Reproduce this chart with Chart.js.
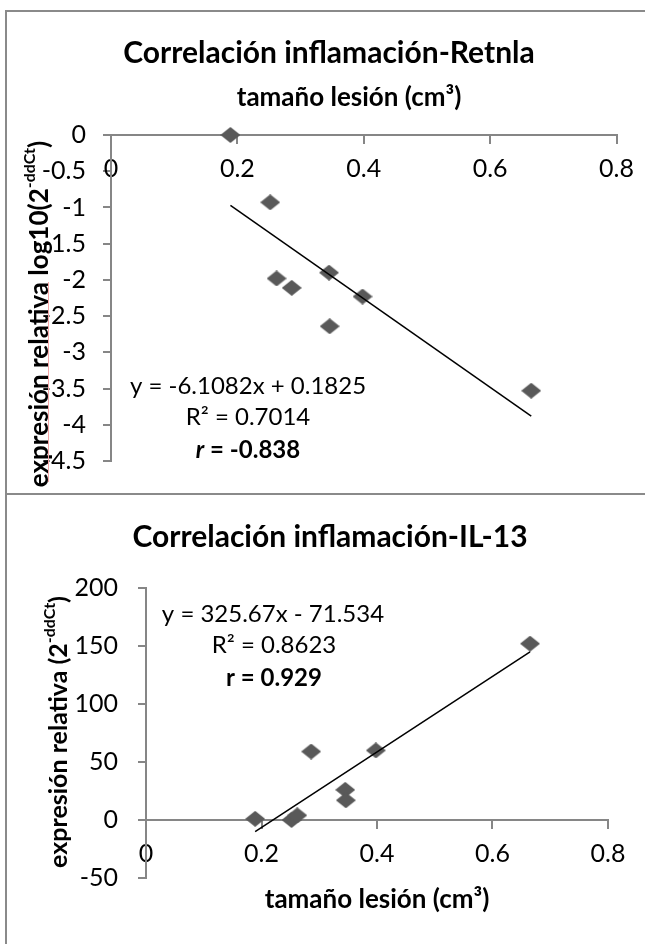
<!DOCTYPE html>
<html>
<head>
<meta charset="utf-8">
<script src="https://cdn.jsdelivr.net/npm/chart.js@4.4.1/dist/chart.umd.min.js"></script>
<style>
  html, body { margin: 0; padding: 0; background: #fff; }
  body { width: 645px; height: 944px; position: relative; overflow: hidden; }
  canvas { position: absolute; left: 0; }
  #retnla { top: 0; }
  #il13 { top: 493px; }
  .frame { position: absolute; background: #8a8a8a; }
</style>
</head>
<body>
<canvas id="retnla" width="645" height="493" style="width:645px;height:493px"></canvas>
<canvas id="il13" width="645" height="451" style="width:645px;height:451px"></canvas>
<div class="frame" style="left:5px;top:10px;width:2px;height:934px"></div>
<div class="frame" style="left:5px;top:10px;width:640px;height:2px"></div>
<div class="frame" style="left:5px;top:493px;width:640px;height:2px"></div>
<div style="position:absolute;left:48px;top:282px;width:1px;height:200px;background:#f3a6a6"></div>
<script>
// lesion size (cm3) per animal, shared by both panels
const lesionSize = [0.189, 0.252, 0.262, 0.286, 0.345, 0.346, 0.398, 0.665];
// log10(2^-ddCt) for Retnla
const retnlaExpr = [0, -0.93, -1.98, -2.11, -1.90, -2.64, -2.23, -3.53];
// 2^-ddCt for IL-13
const il13Expr = [1, 0, 4, 59, 26, 17, 60, 152];
// trendline end points as drawn
const retnlaTrendX = [0.189, 0.665];
const retnlaTrendY = [-0.97, -3.88];
const il13TrendX = [0.189, 0.665];
const il13TrendY = [-10, 145];

const FONT = 'Lato, "Open Sans", sans-serif';
const AXIS_GRAY = '#868686';
const MARKER = '#595959';
const TICK_SIZE = 25;

function pairs(xs, ys) {
  return xs.map((x, i) => ({ x, y: ys[i] }));
}

// diamond marker, a bit wider than tall like the original
function diamond(w, h, color) {
  const c = document.createElement('canvas');
  c.width = w; c.height = h;
  const g = c.getContext('2d');
  g.fillStyle = color;
  g.beginPath();
  g.moveTo(w / 2, 0);
  g.lineTo(w, h / 2);
  g.lineTo(w / 2, h);
  g.lineTo(0, h / 2);
  g.closePath();
  g.fill();
  return c;
}
const marker = diamond(20, 16, MARKER);

// rich text: bold / italic / superscript runs, centered on (x, y)
function drawRich(ctx, parts, x, y, rot) {
  const fontOf = p => (p.italic ? 'italic ' : '') + (p.bold ? 'bold ' : '') +
    Math.round(p.sup ? p.size * 0.62 : p.size) + 'px ' + FONT;
  let total = 0;
  const widths = parts.map(p => {
    ctx.font = fontOf(p);
    const w = ctx.measureText(p.t).width;
    total += w;
    return w;
  });
  ctx.save();
  ctx.translate(x, y);
  if (rot) ctx.rotate(rot);
  ctx.fillStyle = '#000';
  ctx.textBaseline = 'middle';
  ctx.textAlign = 'left';
  let cx = -total / 2;
  parts.forEach((p, i) => {
    ctx.font = fontOf(p);
    ctx.fillText(p.t, cx, p.sup ? -p.size * 0.38 : 0);
    cx += widths[i];
  });
  ctx.restore();
}

const textLayer = {
  id: 'textLayer',
  afterDraw(chart, args, opts) {
    const ctx = chart.ctx;
    (opts.items || []).forEach(it => drawRich(ctx, it.parts, it.x, it.y, it.rot || 0));
  },
};

const plainNumber = v => String(+Number(v).toFixed(3));

function axisX(padding) {
  return {
    type: 'linear',
    position: { y: 0 },
    min: 0, max: 0.8,
    ticks: { stepSize: 0.2, padding, color: '#000', font: { family: FONT, size: TICK_SIZE }, callback: plainNumber },
    grid: { drawOnChartArea: false, drawTicks: true, tickLength: 8, color: AXIS_GRAY, lineWidth: 2 },
    border: { display: true, color: AXIS_GRAY, width: 2 },
  };
}

function axisY(min, max, step, padding, width) {
  return {
    type: 'linear',
    position: 'left',
    min, max,
    ticks: { stepSize: step, padding, color: '#000', font: { family: FONT, size: TICK_SIZE }, callback: plainNumber },
    grid: { drawOnChartArea: false, drawTicks: true, tickLength: 8, color: AXIS_GRAY, lineWidth: 2 },
    border: { display: true, color: AXIS_GRAY, width: 2 },
    afterFit(scale) { scale.width = width; },
  };
}

function datasets(xs, ys, tx, ty) {
  return [
    {
      type: 'scatter',
      data: pairs(xs, ys),
      pointStyle: marker,
      pointRadius: 10,
      clip: false,
      order: 1,
    },
    {
      type: 'line',
      data: pairs(tx, ty),
      borderColor: '#000',
      borderWidth: 1.5,
      pointRadius: 0,
      fill: false,
      tension: 0,
      order: 0,
    },
  ];
}

Chart.defaults.font.family = FONT;
Chart.defaults.color = '#000';

new Chart(document.getElementById('retnla'), {
  data: { datasets: datasets(lesionSize, retnlaExpr, retnlaTrendX, retnlaTrendY) },
  options: {
    responsive: false,
    animation: false,
    layout: { padding: { top: 135, right: 23, bottom: 27, left: 0 } },
    plugins: {
      legend: { display: false },
      tooltip: { enabled: false },
      textLayer: {
        items: [
          { x: 329, y: 53, parts: [{ t: 'Correlación inflamación-Retnla', size: 30, bold: true }] },
          { x: 349, y: 98, parts: [{ t: 'tamaño lesión (cm³)', size: 26, bold: true }] },
          { x: 40, y: 314, rot: -Math.PI / 2, parts: [
            { t: 'expresión relativa log10(2', size: 26, bold: true },
            { t: '-ddCt', size: 26, bold: true, sup: true },
            { t: ')', size: 26, bold: true },
          ] },
          { x: 248, y: 386, parts: [{ t: 'y = -6.1082x + 0.1825', size: 23.5 }] },
          { x: 248, y: 417, parts: [{ t: 'R² = 0.7014', size: 23.5 }] },
          { x: 248, y: 450, parts: [
            { t: 'r', size: 23.5, bold: true, italic: true },
            { t: ' = -0.838', size: 23.5, bold: true },
          ] },
        ],
      },
    },
    scales: {
      x: axisX(11),
      y: axisY(-4.5, 0, 0.5, 17, 111),
    },
  },
  plugins: [textLayer],
});

new Chart(document.getElementById('il13'), {
  data: { datasets: datasets(lesionSize, il13Expr, il13TrendX, il13TrendY) },
  options: {
    responsive: false,
    animation: false,
    layout: { padding: { top: 95, right: 37, bottom: 66, left: 0 } },
    plugins: {
      legend: { display: false },
      tooltip: { enabled: false },
      textLayer: {
        items: [
          { x: 330, y: 44, parts: [{ t: 'Correlación inflamación-IL-13', size: 30, bold: true }] },
          { x: 377, y: 407, parts: [{ t: 'tamaño lesión (cm³)', size: 26, bold: true }] },
          { x: 59, y: 239, rot: -Math.PI / 2, parts: [
            { t: 'expresión relativa (2', size: 25, bold: true },
            { t: '-ddCt', size: 25, bold: true, sup: true },
            { t: ')', size: 25, bold: true },
          ] },
          { x: 273, y: 121, parts: [{ t: 'y = 325.67x - 71.534', size: 23.5 }] },
          { x: 274, y: 152, parts: [{ t: 'R² = 0.8623', size: 23.5 }] },
          { x: 274, y: 185, parts: [{ t: 'r = 0.929', size: 23.5, bold: true }] },
        ],
      },
    },
    scales: {
      x: axisX(11),
      y: axisY(-50, 200, 50, 20, 146),
    },
  },
  plugins: [textLayer],
});
</script>
</body>
</html>
